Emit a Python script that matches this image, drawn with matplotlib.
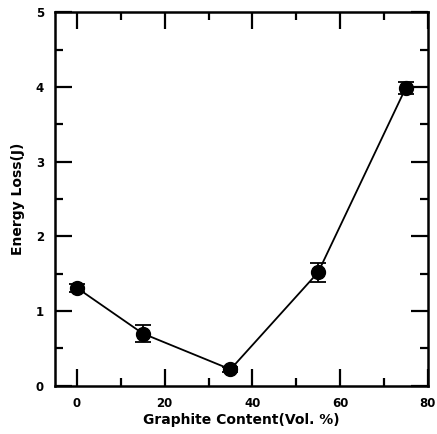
import numpy as np
import matplotlib.pyplot as plt

graphite = [0, 15, 35, 55, 75]
energy_loss = [1.31, 0.70, 0.22, 1.52, 3.99]
err = [0.05, 0.11, 0.03, 0.13, 0.08]

fig = plt.figure(figsize=(4.37, 4.34), dpi=100)
ax = fig.add_axes([0.126, 0.111, 0.853, 0.861])

ax.errorbar(graphite, energy_loss, yerr=err, color="black", marker="o",
            markersize=10, linewidth=1.3, elinewidth=1.3, capsize=6, capthick=1.3)

ax.set_xlim(-5, 80)
ax.set_ylim(0, 5)
ax.set_xticks([0, 20, 40, 60, 80])
ax.set_xticks([10, 30, 50, 70], minor=True)
ax.set_yticks([0, 1, 2, 3, 4, 5])
ax.set_yticks([0.5, 1.5, 2.5, 3.5, 4.5], minor=True)

ax.tick_params(which="both", direction="in", top=True, right=True, width=1.6)
ax.tick_params(which="major", length=12, labelsize=8.5, pad=8)
ax.tick_params(which="minor", length=6)
for lab in ax.get_xticklabels() + ax.get_yticklabels():
    lab.set_fontweight("bold")
for s in ax.spines.values():
    s.set_linewidth(1.8)

ax.set_xlabel("Graphite Content(Vol. %)", fontsize=10, fontweight="bold", labelpad=2)
ax.set_ylabel("Energy Loss(J)", fontsize=10, fontweight="bold", labelpad=8)

plt.savefig("out.png")
